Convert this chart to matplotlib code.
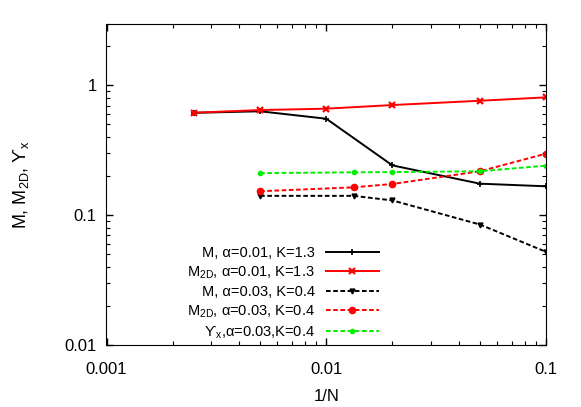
import matplotlib
matplotlib.use('Agg')
import matplotlib.pyplot as plt
from matplotlib.ticker import FixedLocator, LogLocator, NullFormatter, FixedFormatter

plt.rcParams['font.family'] = ['Liberation Sans', 'DejaVu Sans']
plt.rcParams['mathtext.fontset'] = 'custom'
plt.rcParams['mathtext.rm'] = 'Liberation Sans'

# data
x_a = [0.0025, 0.005, 0.01, 0.02, 0.05, 0.1]
m_a = [0.615, 0.632, 0.554, 0.242, 0.175, 0.167]
m2d_a = [0.616, 0.646, 0.662, 0.706, 0.762, 0.809]

x_b = [0.005, 1 / 75, 0.02, 0.05, 0.1]
m_b = [0.141, 0.141, 0.130, 0.0848, 0.0522]
m2d_b = [0.153, 0.164, 0.174, 0.218, 0.298]
yx_b = [0.211, 0.214, 0.215, 0.218, 0.241]

labels = [r'M, α=0.01, K=1.3',
          r'M$_{\mathrm{2D}}$, α=0.01, K=1.3',
          r'M, α=0.03, K=0.4',
          r'M$_{\mathrm{2D}}$, α=0.03, K=0.4',
          r'ϒ$_{\mathrm{x}}$,α=0.03,K=0.4']

fig = plt.figure(figsize=(5.81, 4.07), dpi=100)
ax = fig.add_axes([106.5 / 581, 1 - 345 / 407, 439.5 / 581, 321.5 / 407])

dash = (2.4, 1.3)
ax.plot(x_a, m_a, color='black', lw=1.4, marker='+', ms=5, mew=1.2, label=labels[0])
ax.plot(x_a, m2d_a, color='red', lw=1.4, marker='x', ms=4.5, mew=1.6, label=labels[1])
ax.plot(x_b, m_b, color='black', lw=1.4, dashes=dash, marker='v', ms=3.5, label=labels[2])
ax.plot(x_b, m2d_b, color='red', lw=1.4, dashes=dash, marker='o', ms=4.5, label=labels[3])
ax.plot(x_b, yx_b, color='#00ee00', lw=1.4, dashes=dash, marker='o', ms=3, label=labels[4])

ax.set_xscale('log')
ax.set_yscale('log')
ax.set_xlim(0.001, 0.1)
ax.set_ylim(0.01, 3)

ax.xaxis.set_major_locator(FixedLocator([0.001, 0.01, 0.1]))
ax.xaxis.set_major_formatter(FixedFormatter(['0.001', '0.01', '0.1']))
ax.yaxis.set_major_locator(FixedLocator([0.01, 0.1, 1]))
ax.yaxis.set_major_formatter(FixedFormatter(['0.01', '0.1', '1']))
for a in (ax.xaxis, ax.yaxis):
    a.set_minor_locator(LogLocator(base=10, subs=range(2, 10)))
    a.set_minor_formatter(NullFormatter())

ax.tick_params(which='both', direction='in', top=True, right=True, labelsize=12)
ax.tick_params(which='major', length=5, width=1)
ax.tick_params(which='minor', length=3, width=0.8)
ax.tick_params(axis='y', which='major', pad=7)
ax.tick_params(axis='x', which='major', pad=12)

ax.set_xlabel('1/N', fontsize=12, labelpad=9)
ax.set_ylabel(r'M, M$_{\mathrm{2D}}$, ϒ$_{\mathrm{x}}$', fontsize=13, labelpad=24)

ax.legend(loc='upper right', bbox_to_anchor=(0.636, 0.33), frameon=False,
          markerfirst=False, numpoints=1, fontsize=10.5, handlelength=3.6,
          handletextpad=0.8, labelspacing=0.28, borderpad=0)

fig.savefig('out.png', dpi=100)
